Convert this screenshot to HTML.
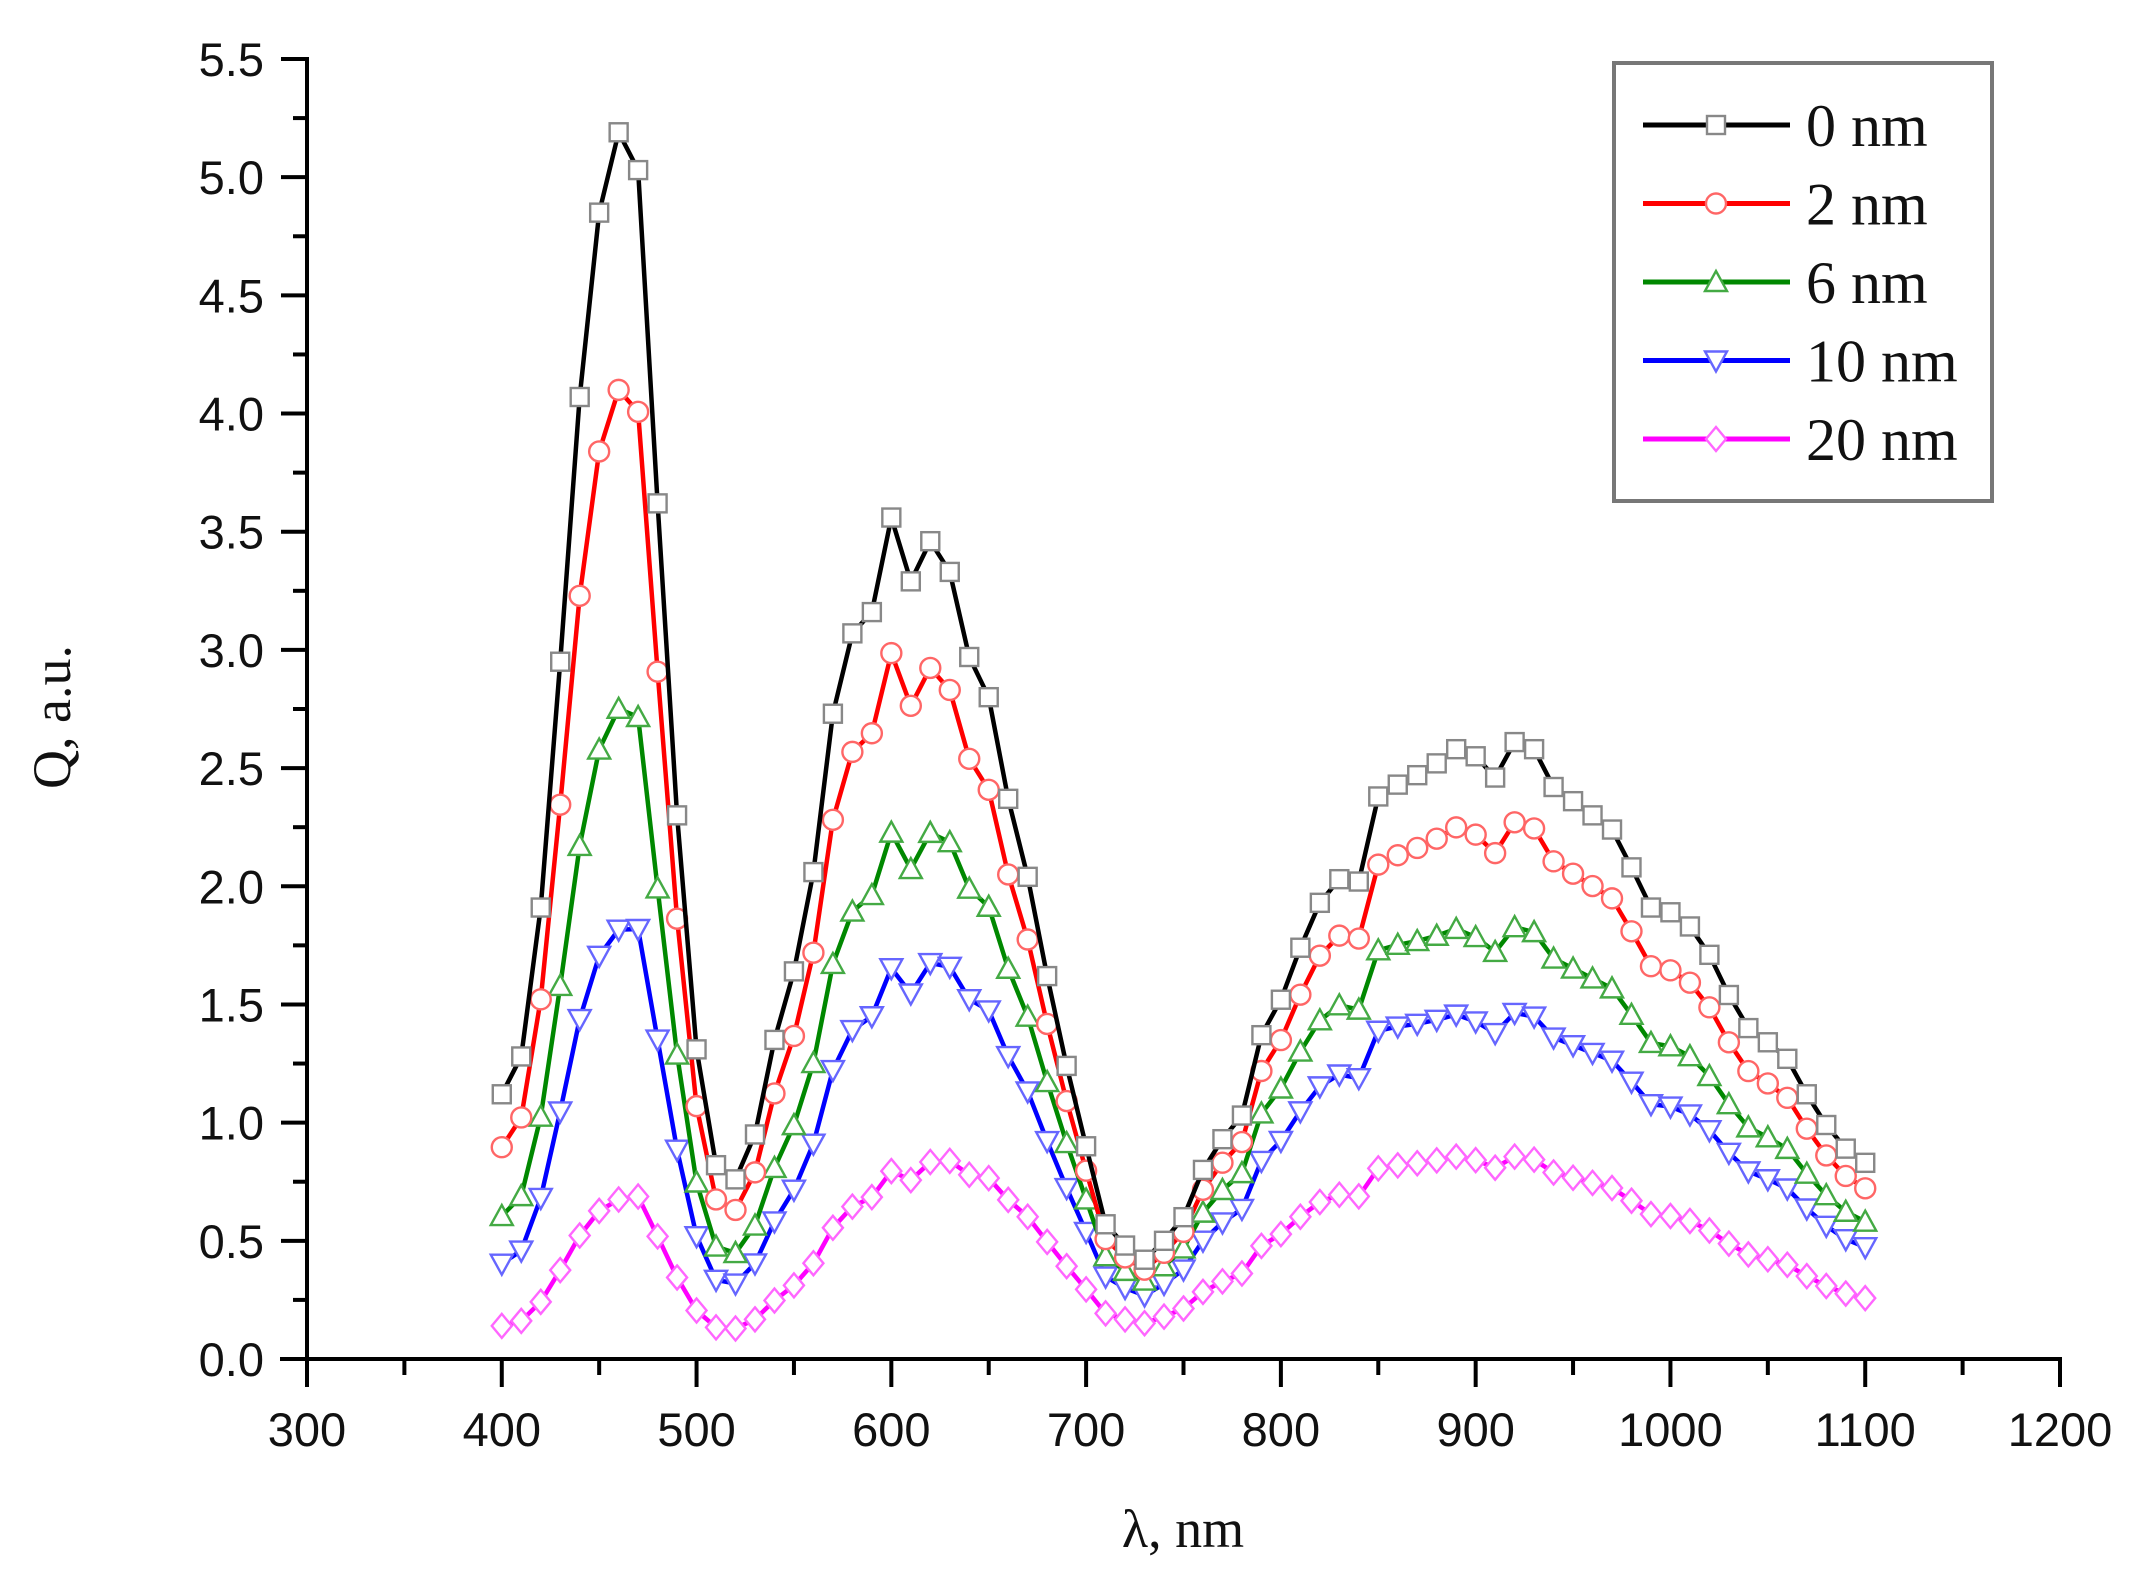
<!DOCTYPE html>
<html><head><meta charset="utf-8"><style>
html,body{margin:0;padding:0;background:#fff}
svg{display:block}
</style></head><body>
<svg id="c" width="2145" height="1588" xmlns="http://www.w3.org/2000/svg">
<rect width="2145" height="1588" fill="#fff"/>
<g id="axes" stroke="#000" stroke-width="4" fill="none"></g>
<g id="lab" font-family="Liberation Sans, sans-serif" font-size="47" fill="#111"></g>
<g id="series"></g>
<text x="0" y="0" transform="translate(70,717) rotate(-90)" text-anchor="middle" font-family="Liberation Serif, serif" font-size="54" fill="#111">Q, a.u.</text>
<text x="1183" y="1547" text-anchor="middle" font-family="Liberation Serif, serif" font-size="54" fill="#111">λ, nm</text>
<rect x="1614" y="63" width="378" height="438" fill="#fff" stroke="#777" stroke-width="4"/>
<g id="leg" font-family="Liberation Serif, serif" font-size="60" fill="#111"></g>
</svg>
<script>
const NS="http://www.w3.org/2000/svg";
function el(t,a,p){const e=document.createElementNS(NS,t);for(const k in a)e.setAttribute(k,a[k]);p.appendChild(e);return e;}
const X=v=>307+(v-300)*(2060-307)/900, Y=v=>1359-v*1300/5.5;
const ax=document.getElementById('axes'), lab=document.getElementById('lab');
el('line',{x1:307,y1:57,x2:307,y2:1361},ax);
el('line',{x1:280,y1:1359,x2:2062,y2:1359},ax);
for(let i=0;i<=11;i++){const v=i*0.5,y=Y(v);el('line',{x1:281,y1:y,x2:307,y2:y},ax);
 const t=el('text',{x:264,y:y+17,'text-anchor':'end'},lab);t.textContent=v.toFixed(1);}
for(let i=0;i<11;i++){const y=Y(i*0.5+0.25);el('line',{x1:293,y1:y,x2:307,y2:y},ax);}
for(let v=300;v<=1200;v+=50){const x=X(v),maj=v%100==0;el('line',{x1:x,y1:1359,x2:x,y2:maj?1387:1375},ax);
 if(maj){const t=el('text',{x:x,y:1446,'text-anchor':'middle'},lab);t.textContent=v;}}
const blk=[1.12,1.28,1.91,2.95,4.07,4.85,5.19,5.03,3.62,2.30,1.31,0.82,0.76,0.95,1.35,1.64,2.06,2.73,3.07,3.16,3.56,3.29,3.46,3.33,2.97,2.80,2.37,2.04,1.62,1.24,0.90,0.57,0.48,0.42,0.50,0.60,0.80,0.93,1.03,1.37,1.52,1.74,1.93,2.03,2.02,2.38,2.43,2.47,2.52,2.58,2.55,2.46,2.61,2.58,2.42,2.36,2.30,2.24,2.08,1.91,1.89,1.83,1.71,1.54,1.40,1.34,1.27,1.12,0.99,0.89,0.83];
const ak=[400,460,520,610,730,900,1100];
const fac={red:[.80,.79,.83,.84,.90,.87,.87],green:[.54,.53,.59,.63,.79,.70,.70],blue:[.36,.35,.42,.47,.64,.56,.57],mag:[.125,.13,.17,.23,.36,.33,.31]};
function f(arr,l){for(let i=0;i<ak.length-1;i++){if(l<=ak[i+1]){const t=(l-ak[i])/(ak[i+1]-ak[i]);return arr[i]+t*(arr[i+1]-arr[i]);}}return arr[arr.length-1];}
const S=[
 {c:'#000',m:'#888',k:'sq',d:null,name:'0 nm'},
 {c:'#f00',m:'#f66',k:'ci',d:'red',name:'2 nm'},
 {c:'#080',m:'#4a4',k:'tu',d:'green',name:'6 nm'},
 {c:'#00f',m:'#66f',k:'td',d:'blue',name:'10 nm'},
 {c:'#f0f',m:'#f6f',k:'di',d:'mag',name:'20 nm'}];
function marker(k,x,y,col,g){const s=9;const a={fill:'#fff',stroke:col,'stroke-width':2.4};
 if(k=='sq')el('rect',Object.assign({x:x-s,y:y-s,width:2*s,height:2*s},a),g);
 else if(k=='ci')el('circle',Object.assign({cx:x,cy:y,r:s+1},a),g);
 else if(k=='tu')el('polygon',Object.assign({points:`${x},${y-s-2} ${x-s-2},${y+s} ${x+s+2},${y+s}`},a),g);
 else if(k=='td')el('polygon',Object.assign({points:`${x},${y+s+2} ${x-s-2},${y-s} ${x+s+2},${y-s}`},a),g);
 else el('polygon',Object.assign({points:`${x},${y-s-3} ${x+s+1},${y} ${x},${y+s+3} ${x-s-1},${y}`},a),g);}
const sg=document.getElementById('series');
for(let si=S.length-1;si>=0;si--){const s=S[si];const g=el('g',{},sg);
 const pts=blk.map((v,i)=>{const l=400+i*10;const val=s.d?v*f(fac[s.d],l):v;return [X(l),Y(val)];});
 el('polyline',{points:pts.map(p=>p.join(',')).join(' '),fill:'none',stroke:s.c,'stroke-width':4.5,'stroke-linejoin':'round'},g);
 pts.forEach(p=>marker(s.k,p[0],p[1],s.m,g));}
const lg=document.getElementById('leg');
S.forEach((s,i)=>{const y=125+i*78.5;el('line',{x1:1643,y1:y,x2:1790,y2:y,stroke:s.c,'stroke-width':5},lg);
 marker(s.k,1716,y,s.m,lg);const t=el('text',{x:1806,y:y+21},lg);t.textContent=s.name;});
</script>
</body></html>
